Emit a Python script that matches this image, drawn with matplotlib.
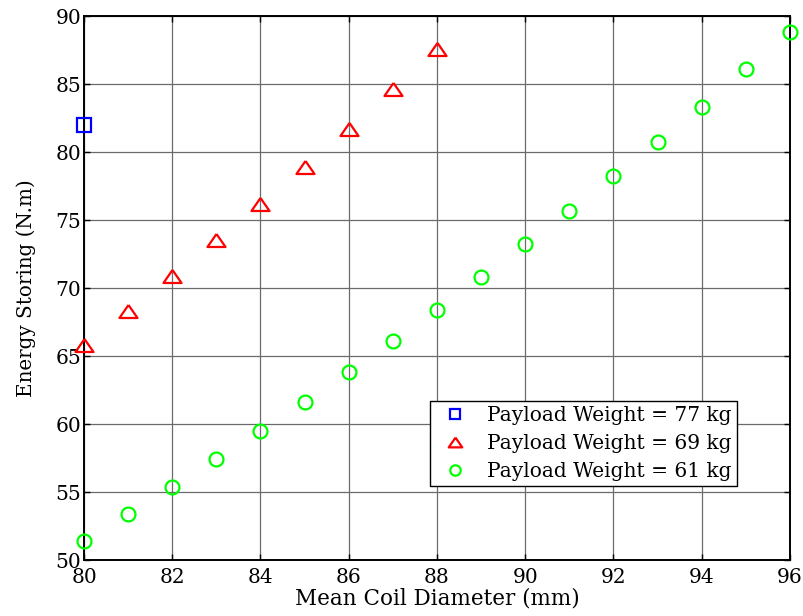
import matplotlib.pyplot as plt
import numpy as np

# Daten
x_77 = [80]
e_77 = [82.0]

x_69 = [80, 81, 82, 83, 84, 85, 86, 87, 88]
e_69 = [65.8, 68.3, 70.9, 73.5, 76.2, 78.9, 81.7, 84.6, 87.6]

x_61 = [80, 81, 82, 83, 84, 85, 86, 87, 88, 89, 90, 91, 92, 93, 94, 95, 96]
e_61 = [51.4, 53.4, 55.35, 57.4, 59.45, 61.6, 63.85, 66.1, 68.4,
        70.8, 73.2, 75.65, 78.2, 80.75, 83.3, 86.1, 88.85]

labels = ['Payload Weight = 77 kg', 'Payload Weight = 69 kg', 'Payload Weight = 61 kg']

plt.rcParams['font.family'] = ['DejaVu Serif']
plt.rcParams['font.size'] = 14.5

# flaches Dreieck wie bei MATLAB
tri = [(0, 0.72), (-1, -0.72), (1, -0.72), (0, 0.72)]

fig = plt.figure(figsize=(8.04, 6.16), dpi=100)
ax = fig.add_axes([0.1045, 0.0909, 0.878, 0.8831])

ax.plot(x_77, e_77, linestyle='none', marker='s', ms=10, mfc='none',
        mec=(0, 0, 1), mew=1.6, label=labels[0], clip_on=False, zorder=3)
ax.plot(x_69, e_69, linestyle='none', marker=tri, ms=13, mfc='none',
        mec=(1, 0, 0), mew=1.6, label=labels[1], clip_on=False, zorder=3)
ax.plot(x_61, e_61, linestyle='none', marker='o', ms=10, mfc='none',
        mec=(0, 1, 0), mew=1.6, label=labels[2], clip_on=False, zorder=3)

ax.set_xlim(80, 96)
ax.set_ylim(50, 90)
ax.set_xticks(np.arange(80, 97, 2))
ax.set_yticks(np.arange(50, 91, 5))
ax.grid(True, color='0.42', linewidth=0.9)
ax.set_axisbelow(True)
ax.tick_params(direction='in', top=True, right=True, length=4, width=1)
ax.tick_params(axis='x', pad=5.5)
ax.tick_params(axis='y', pad=2)
for s in ax.spines.values():
    s.set_linewidth(1.4)

ax.set_xlabel('Mean Coil Diameter (mm)', fontsize=15.5, labelpad=0.5)
ax.set_ylabel('Energy Storing (N.m)', fontsize=14.3, labelpad=14)

leg = ax.legend(loc='lower left', bbox_to_anchor=(0.49, 0.136), fancybox=False,
                edgecolor='black', framealpha=1, borderpad=0.25, labelspacing=0.45,
                handletextpad=0.6, borderaxespad=0, markerscale=0.75)
leg.get_frame().set_linewidth(1.0)

fig.savefig('out.png', dpi=100)
